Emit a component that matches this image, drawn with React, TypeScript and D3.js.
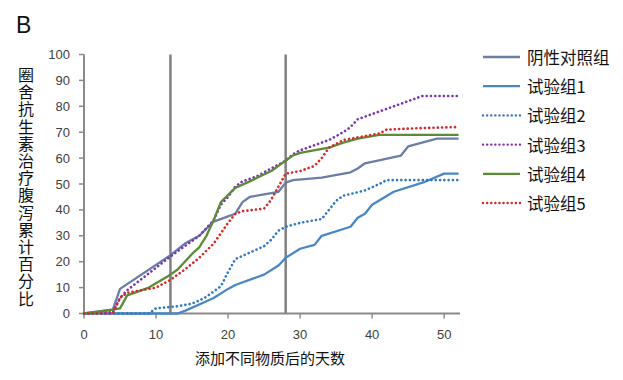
import React from "react";
import * as d3 from "d3";

const xTicks = [0, 10, 20, 30, 40, 50];
const yTicks = [0, 10, 20, 30, 40, 50, 60, 70, 80, 90, 100];
const refDays = [12, 28];
const yTitle = "圈舍抗生素治疗腹泻累计百分比";
const xTitle = "添加不同物质后的天数";

const controlDays = [0, 4, 5, 12, 14, 16, 18, 20, 21, 22, 23, 26, 27, 28, 29, 33, 37, 38, 39, 44, 45, 49, 52];
const controlVals = [0, 1.5, 9.5, 22.5, 27, 30, 35.5, 37.5, 38.5, 43, 45, 46.5, 47, 50.5, 51.5, 52.5, 54.5, 56, 58, 61, 64.5, 67.5, 67.5];

const g1Days = [0, 13, 14, 16, 18, 20, 21, 24, 25, 27, 28, 30, 32, 33, 37, 38, 39, 40, 43, 47, 50, 52];
const g1Vals = [0, 0, 1, 3.5, 6, 9.5, 11, 14, 15, 18.5, 21.5, 25, 26.5, 30, 33.5, 37, 38.5, 42, 47, 50.5, 54, 54];

const g2Days = [0, 9, 10, 13, 15, 16, 17, 19, 20, 21, 23, 25, 26, 27, 28, 30, 33, 34, 35, 36, 39, 41, 42, 52];
const g2Vals = [0, 0, 2, 2.8, 3.8, 5, 6.5, 10.5, 16, 21, 23.5, 26, 28.5, 32, 33.5, 35, 36.5, 40, 43.5, 45.5, 47.5, 50, 51.5, 51.5];

const g3Days = [0, 4, 5, 6, 12, 14, 16, 17, 18, 19, 20, 21, 22, 24, 26, 28, 29, 30, 34, 36, 37, 38, 40, 42, 44, 47, 52];
const g3Vals = [0, 0.5, 6, 9, 22, 26, 30, 33, 36, 42, 45, 49, 51, 53, 56, 59, 61.5, 63, 67, 70, 72, 75, 77, 79, 81, 84, 84];

const g4Days = [0, 4, 5, 6, 9, 12, 13, 15, 16, 17, 18, 19, 21, 23, 26, 28, 29, 30, 34, 36, 38, 41, 52];
const g4Vals = [0, 1.5, 2, 7, 10, 15, 17, 23, 25.5, 30, 36, 43, 48.5, 51, 55, 59, 61, 62, 64, 66, 67.5, 69, 69];

const g5Days = [0, 4, 5, 6, 10, 12, 14, 16, 18, 19, 20, 21, 22, 25, 26, 27, 28, 30, 32, 33, 34, 36, 38, 41, 42, 46, 52];
const g5Vals = [0, 0, 6, 8, 10, 13, 17, 21.5, 27, 31, 35, 38.5, 39.5, 40.5, 44, 49, 54, 55, 57, 60, 64, 67, 68, 69.5, 71, 71.5, 72];

const seriesNames = ["阴性对照组", "试验组1", "试验组2", "试验组3", "试验组4", "试验组5"];
const seriesDays = [controlDays, g1Days, g2Days, g3Days, g4Days, g5Days];
const seriesVals = [controlVals, g1Vals, g2Vals, g3Vals, g4Vals, g5Vals];
const seriesColors = ["#6a7ea6", "#4a86c5", "#2f78c4", "#7a35b0", "#5b8c35", "#d42a2a"];
const seriesDotted = [false, false, true, true, false, true];

export default function App() {
  const W = 623, H = 380;
  const x = d3.scaleLinear().domain([0, 52.2]).range([84, 460]);
  const y = d3.scaleLinear().domain([0, 100]).range([313.5, 54.5]);
  const line = d3.line<[number, number]>().x(d => x(d[0])).y(d => y(d[1]));
  const axisColor = "#8a8a8a";
  const font = "Arial, 'Liberation Sans', 'Noto Sans CJK SC', sans-serif";
  const cjk = "'Noto Sans CJK SC', sans-serif";

  return (
    <svg width={W} height={H} style={{ position: "absolute", left: 0, top: 0, background: "#fff" }}>
      <rect width={W} height={H} fill="#fff" />
      <text x={16} y={33} fontSize={23} fontFamily={font} fill="#111">B</text>

      {/* y axis title, vertical */}
      <text x={26} y={67} fontSize={16} fontFamily={cjk} fill="#111"
        style={{ writingMode: "vertical-rl", textOrientation: "upright", letterSpacing: "1.2px" } as any}>{yTitle}</text>

      {/* axes */}
      <line x1={x(0)} x2={x(0)} y1={y(100)} y2={y(0)} stroke={axisColor} strokeWidth={2} />
      <line x1={x(0)} x2={x(52.2)} y1={y(0)} y2={y(0)} stroke={axisColor} strokeWidth={2} />
      {yTicks.map(t => (
        <g key={t}>
          <line x1={x(0) - 5} x2={x(0)} y1={y(t)} y2={y(t)} stroke={axisColor} strokeWidth={1.5} />
          <text x={70} y={y(t)} fontSize={13} fontFamily={font} textAnchor="end" dominantBaseline="central" fill="#404040">{t}</text>
        </g>
      ))}
      {xTicks.map(t => (
        <g key={t}>
          <line x1={x(t)} x2={x(t)} y1={y(0)} y2={y(0) + 5} stroke={axisColor} strokeWidth={1.5} />
          <text x={x(t)} y={334} fontSize={13} fontFamily={font} textAnchor="middle" dominantBaseline="central" fill="#404040">{t}</text>
        </g>
      ))}

      {/* reference lines */}
      {refDays.map(d => (
        <line key={d} x1={x(d)} x2={x(d)} y1={y(100)} y2={y(0)} stroke="#808080" strokeWidth={2.5} />
      ))}

      {/* series */}
      {seriesNames.map((n, i) => {
        const pts = seriesDays[i].map((d, j) => [d, seriesVals[i][j]] as [number, number]);
        return (
          <path key={n} d={line(pts) || ""} fill="none" stroke={seriesColors[i]}
            strokeWidth={seriesDotted[i] ? 2.6 : 2.3}
            strokeDasharray={seriesDotted[i] ? "0.1 4.2" : undefined}
            strokeLinecap={seriesDotted[i] ? "round" : "butt"}
            strokeLinejoin="round" />
        );
      })}

      {/* legend */}
      {seriesNames.map((n, i) => {
        const ly = 57 + i * 29.2;
        return (
          <g key={n}>
            <line x1={483} x2={520} y1={ly} y2={ly} stroke={seriesColors[i]}
              strokeWidth={seriesDotted[i] ? 2.4 : 2.3}
              strokeDasharray={seriesDotted[i] ? "0.1 4" : undefined}
              strokeLinecap={seriesDotted[i] ? "round" : "butt"} />
            <text x={527} y={ly} fontSize={16.5} fontFamily={cjk} dominantBaseline="central" fill="#111">{n}</text>
          </g>
        );
      })}

      <text x={270} y={357} fontSize={15} fontFamily={cjk} textAnchor="middle" dominantBaseline="central" fill="#111">{xTitle}</text>
    </svg>
  );
}
